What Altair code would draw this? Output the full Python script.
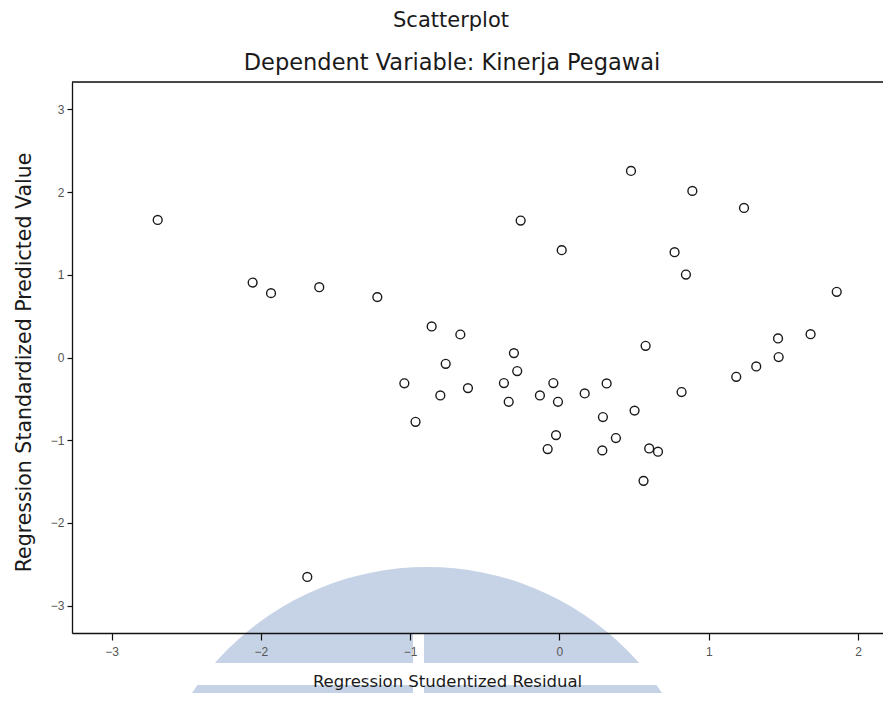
import altair as alt
import pandas as pd

# Regression Studentized Residual (x) and Regression Standardized Predicted Value (y)
residual = [-2.691, -2.055, -1.932, -1.609, -1.220, -1.039, -0.964, 0.479, -0.260, 0.015,
            -0.856, -0.664, -0.305, 0.577, -0.762, -0.283, -0.372, -0.041, 0.316, -0.613,
            -0.798, -0.131, 0.169, -0.340, -0.010, 0.503, 0.291, -0.023, 0.378, -0.079,
            0.287, 0.601, 0.660, 0.563, 1.464, 1.682, 1.468, 1.318, 1.184, 0.818,
            0.890, 1.236, 0.771, 0.847, 1.857, -1.689]
predicted = [1.663, 0.906, 0.778, 0.850, 0.730, -0.312, -0.777, 2.255, 1.655, 1.297,
             0.375, 0.278, 0.053, 0.141, -0.076, -0.164, -0.309, -0.309, -0.314, -0.370,
             -0.459, -0.459, -0.435, -0.535, -0.535, -0.642, -0.720, -0.938, -0.974, -1.107,
             -1.123, -1.099, -1.139, -1.491, 0.230, 0.282, 0.005, -0.108, -0.233, -0.418,
             2.014, 1.808, 1.273, 1.003, 0.794, -2.653]

x_ticks = [-3, -2, -1, 0, 1, 2]
y_ticks = [-3, -2, -1, 0, 1, 2, 3]

title_text = "Scatterplot"
subtitle_text = "Dependent Variable: Kinerja Pegawai"
x_title = "Regression Studentized Residual"
y_title = "Regression Standardized Predicted Value"

W, H = 811, 551
FONT = "Liberation Sans"
TFONT = "DejaVu Sans"

df = pd.DataFrame({"res": residual, "pred": predicted})
one = pd.DataFrame({"a": [0]})

xscale = alt.Scale(domain=[-3.265, 2.167], nice=False, zero=False)
yscale = alt.Scale(domain=[-3.33, 3.33], nice=False, zero=False)

# decorative watermark (light blue logo shape behind the chart)
wm_color = "#c6d3e6"
watermark = alt.Chart(one).mark_arc(
    theta=0, theta2=6.2832, radius=282, color=wm_color
).encode(x=alt.value(355), y=alt.value(767))
band = alt.Chart(one).mark_rect(color="white").encode(
    x=alt.value(100), x2=alt.value(700), y=alt.value(581), y2=alt.value(603)
)
gap = alt.Chart(one).mark_rect(color="white").encode(
    x=alt.value(341), x2=alt.value(352), y=alt.value(552), y2=alt.value(640)
)

points = alt.Chart(df).mark_point(
    shape="circle", filled=False, size=78, stroke="#1a1a1a", strokeWidth=1.4, opacity=1
).encode(
    x=alt.X("res:Q", scale=xscale, axis=alt.Axis(
        values=x_ticks, title=x_title, grid=False, zindex=1,
        domainColor="#111", domainWidth=1.3, tickColor="#111", tickSize=7, tickWidth=1.2,
        labelColor="#555", labelFont=FONT, labelFontSize=12, labelPadding=6,
        titleFont=TFONT, titleFontSize=16.5, titleFontWeight="normal", titleColor="#1a1a1a",
        titleX=375, titleY=53, titleBaseline="alphabetic", titleAnchor="middle", titleAlign="center")),
    y=alt.Y("pred:Q", scale=yscale, axis=alt.Axis(
        values=y_ticks, title=y_title, grid=False, zindex=1,
        domainColor="#111", domainWidth=1.3, tickColor="#111", tickSize=5, tickWidth=1.2,
        labelColor="#555", labelFont=FONT, labelFontSize=12, labelPadding=3,
        titleFont=TFONT, titleFontSize=20.5, titleFontWeight="normal", titleColor="#1a1a1a",
        titleX=-42, titleY=280, titleBaseline="alphabetic", titleAlign="center", titleAngle=270)),
)

top_line = alt.Chart(one).mark_rule(color="#111", strokeWidth=1.3).encode(
    x=alt.value(0), x2=alt.value(W), y=alt.value(0)
)

t1 = alt.Chart(one).mark_text(
    text=title_text, font=TFONT, fontSize=21, color="#1a1a1a", align="center", baseline="alphabetic"
).encode(x=alt.value(379), y=alt.value(-55))
t2 = alt.Chart(one).mark_text(
    text=subtitle_text, font=TFONT, fontSize=22.5, color="#1a1a1a", align="center", baseline="alphabetic"
).encode(x=alt.value(380), y=alt.value(-12))

chart = alt.layer(watermark, band, gap, top_line, points, t1, t2).properties(
    width=W, height=H,
    autosize=alt.AutoSizeParams(type="none"),
    padding={"left": 64, "top": 74, "right": 0, "bottom": 60},
).configure_view(stroke=None).configure(background="white")

chart.save("out.html", embed_options={"renderer": "svg", "actions": False})
